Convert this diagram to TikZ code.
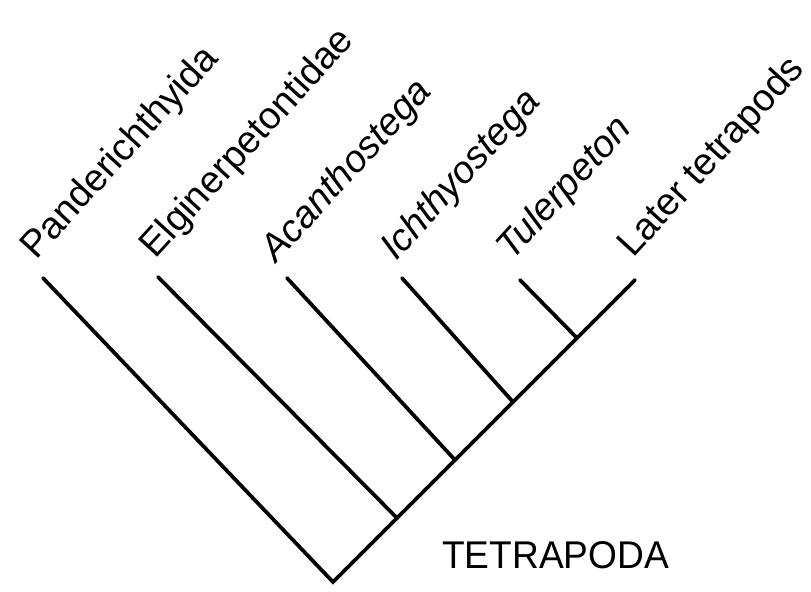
\documentclass[tikz,border=0pt]{standalone}
\usepackage{fontspec}
\setmainfont{Liberation Sans}
\begin{document}
\begin{tikzpicture}[x=0.75pt,y=-0.75pt,
  branch/.style={line width=2.8pt,line cap=round,line join=miter},
  taxon/.style={anchor=base west,inner sep=0pt,rotate=47.5,font=\fontsize{28.5}{34}\selectfont},
  clade/.style={anchor=base west,inner sep=0pt,font=\fontsize{29}{34}\selectfont}]
\useasboundingbox (0,0) rectangle (811,592);
% tips
\coordinate (tP) at (43,278);
\coordinate (tE) at (158,277);
\coordinate (tA) at (287,278);
\coordinate (tI) at (402,278);
\coordinate (tT) at (520,280);
\coordinate (tL) at (635,280);
% junctions
\coordinate (root) at (333,582);
\coordinate (jE) at (397,518);
\coordinate (jA) at (455,460);
\coordinate (jI) at (513,402);
\coordinate (jT) at (577,338);
% branches
\draw[branch] (tP) -- (root) -- (jE) -- (jA) -- (jI) -- (jT) -- (tL);
\draw[branch] (tE) -- (jE);
\draw[branch] (tA) -- (jA);
\draw[branch] (tI) -- (jI);
\draw[branch] (tT) -- (jT);
% labels
\node[taxon] (lP) at (36,261) {Panderichthyida};
\node[taxon] (lE) at (155,260) {Elginerpetontidae};
\node[taxon] (lA) at (276,264) {\itshape Acanthostega};
\node[taxon] (lI) at (396,262) {\itshape Ichthyostega};
\node[taxon] (lT) at (512,262) {\itshape Tulerpeton};
\node[taxon] (lL) at (633,259) {Later tetrapods};
\node[clade] (tet) at (442,568) {\scalebox{0.96}[1]{TETRAPODA}};
\end{tikzpicture}
\end{document}
